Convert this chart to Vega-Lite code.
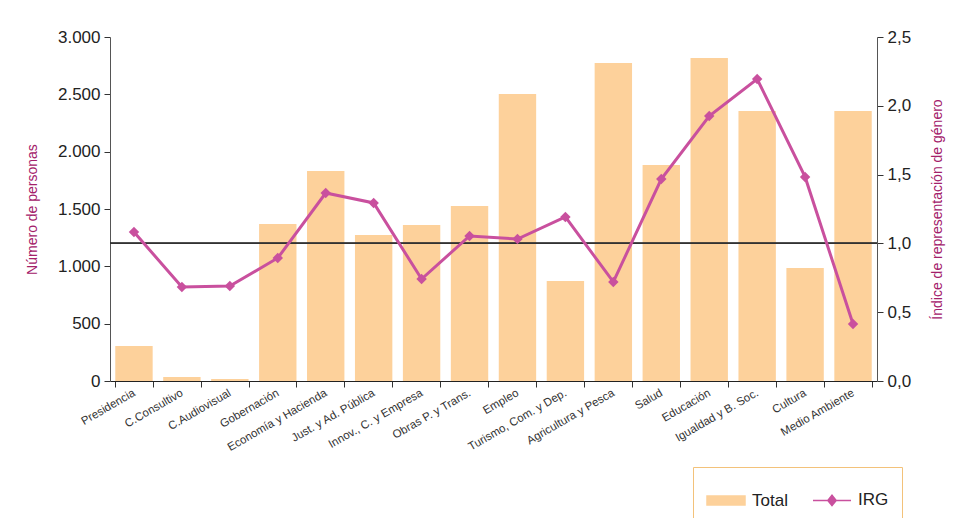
{
  "$schema": "https://vega.github.io/schema/vega-lite/v6.json",
  "autosize": "none",
  "width": 767,
  "height": 344,
  "padding": {"left": 110, "top": 37, "right": 81, "bottom": 137},
  "background": "white",
  "config": {
    "view": {"stroke": null},
    "font": "Liberation Sans",
    "axis": {"labelFont": "Liberation Sans", "titleFont": "Liberation Sans", "grid": false, "domainColor": "#555555", "tickColor": "#333333", "labelColor": "#222222"}
  },
  "data": {
    "values": [
      {"dep": "Presidencia", "total": 305, "irg": 1.083},
      {"dep": "C.Consultivo", "total": 35, "irg": 0.683},
      {"dep": "C.Audiovisual", "total": 17, "irg": 0.69},
      {"dep": "Gobernación", "total": 1369, "irg": 0.894},
      {"dep": "Economía y Hacienda", "total": 1831, "irg": 1.366},
      {"dep": "Just. y Ad. Pública", "total": 1273, "irg": 1.294},
      {"dep": "Innov., C. y Empresa", "total": 1360, "irg": 0.741},
      {"dep": "Obras P. y Trans.", "total": 1526, "irg": 1.054},
      {"dep": "Empleo", "total": 2503, "irg": 1.032},
      {"dep": "Turismo, Com. y Dep.", "total": 872, "irg": 1.192},
      {"dep": "Agricultura y Pesca", "total": 2773, "irg": 0.72},
      {"dep": "Salud", "total": 1884, "irg": 1.468},
      {"dep": "Educación", "total": 2817, "irg": 1.926},
      {"dep": "Igualdad y B. Soc.", "total": 2355, "irg": 2.195},
      {"dep": "Cultura", "total": 985, "irg": 1.483},
      {"dep": "Medio Ambiente", "total": 2355, "irg": 0.414}
    ]
  },
  "layer": [
    {
      "mark": {"type": "bar"},
      "encoding": {
        "x": {
          "field": "dep", "type": "nominal", "sort": null,
          "scale": {"paddingInner": 0.22, "paddingOuter": 0.11},
          "axis": {"title": null, "labelAngle": -30, "labelAlign": "right", "labelBaseline": "middle", "labelFontSize": 11.5, "labelPadding": 5, "tickBand": "extent", "tickSize": 6, "domainColor": "#222222", "labelColor": "#333333"}
        },
        "y": {
          "field": "total", "type": "quantitative",
          "scale": {"domain": [0, 3000]},
          "axis": {"title": "Número de personas", "titleColor": "#a3206a", "titleFontWeight": "normal", "titleFontSize": 14, "titlePadding": 18, "labelFontSize": 17, "tickCount": 6, "format": ",.0f", "labelExpr": "replace(datum.label, ',', '.')", "tickSize": 6, "labelPadding": 4}
        },
        "color": {
          "datum": "Total", "type": "nominal",
          "scale": {"domain": ["Total", "IRG"], "range": ["#fdd19b", "#c9509e"]},
          "legend": {
            "title": null, "orient": "none", "direction": "horizontal",
            "legendX": 583, "legendY": 430,
            "padding": 13, "strokeColor": "#f3c27a", "fillColor": "white",
            "labelFontSize": 17, "labelColor": "#222222", "labelFont": "Liberation Sans",
            "symbolSize": 1444, "columnPadding": 22, "labelOffset": 6,
            "encode": {
              "symbols": {
                "update": {
                  "shape": {"signal": "datum.value == 'Total' ? 'M-1,-0.24H1V0.24H-1Z' : 'M-1,0H1M0,-0.27L0.22,0L0,0.27L-0.22,0Z'"},
                  "strokeWidth": {"value": 1.5}
                }
              }
            }
          }
        }
      }
    },
    {
      "mark": {"type": "rule", "color": "#333333", "strokeWidth": 1},
      "encoding": {
        "y": {"datum": 1, "type": "quantitative", "scale": {"domain": [0, 2.5]}, "axis": null}
      }
    },
    {
      "mark": {"type": "line", "strokeWidth": 3, "point": {"shape": "diamond", "size": 110, "filled": true, "opacity": 1}},
      "encoding": {
        "x": {"field": "dep", "type": "nominal", "sort": null},
        "y": {
          "field": "irg", "type": "quantitative",
          "scale": {"domain": [0, 2.5]},
          "axis": {"orient": "right", "title": "Índice de representación de género", "titleAngle": 270, "titleColor": "#a3206a", "titleFontWeight": "normal", "titleFontSize": 14, "titlePadding": 34, "labelFontSize": 17, "tickCount": 5, "format": ".1f", "labelExpr": "replace(datum.label, '.', ',')", "tickSize": 6, "labelPadding": 4}
        },
        "color": {"datum": "IRG", "type": "nominal"}
      }
    }
  ],
  "resolve": {"scale": {"y": "independent"}}
}
